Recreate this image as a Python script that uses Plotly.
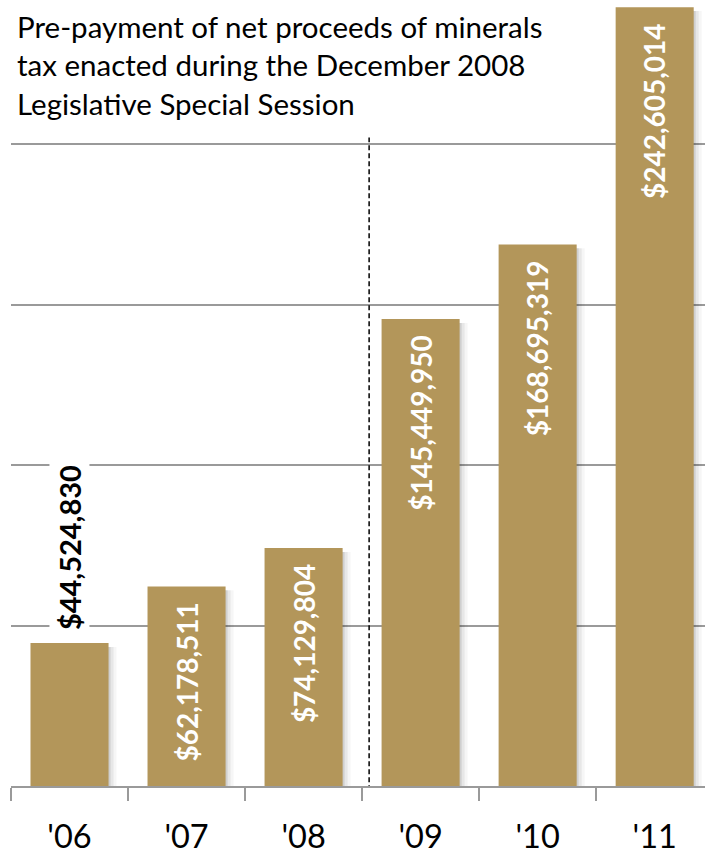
import plotly.graph_objects as go

categories = ["'06", "'07", "'08", "'09", "'10", "'11"]
values = [44524830, 62178511, 74129804, 145449950, 168695319, 242605014]
value_labels = ["$44,524,830", "$62,178,511", "$74,129,804", "$145,449,950", "$168,695,319", "$242,605,014"]
label_inside = [False, True, True, True, True, True]
title_lines = ["Pre-payment of net proceeds of minerals",
               "tax enacted during the December 2008",
               "Legislative Special Session"]

BAR = "#B3965A"
GRID = "#9A9A9A"
FONT = "Lato"

bw = 0.667

fig = go.Figure()
# soft shadow layers
for k, a in [(2, 0.10), (5, 0.06), (8, 0.035)]:
    fig.add_trace(go.Bar(
        x=categories, y=[v - 1.2e6 for v in values], width=bw, offset=-bw / 2 + k / 117.0,
        marker=dict(color=f"rgba(0,0,0,{a})", line=dict(width=0)),
        hoverinfo="skip", showlegend=False))
fig.add_trace(go.Bar(
    x=categories, y=values, width=bw, offset=-bw / 2,
    marker=dict(color=BAR, line=dict(width=0)), showlegend=False))

annotations = []
for c, v, lab, inside in zip(categories, values, value_labels, label_inside):
    if inside:
        annotations.append(dict(x=c, y=v, xref="x", yref="y", text=f"<b>{lab}</b>",
                                textangle=-90, showarrow=False, yanchor="top", yshift=-14,
                                font=dict(family=FONT, size=28, color="white")))
    else:
        annotations.append(dict(x=c, y=v, xref="x", yref="y", text=f"<b>{lab}</b>",
                                textangle=-90, showarrow=False, yanchor="bottom", yshift=10,
                                bgcolor="white", borderpad=2,
                                font=dict(family=FONT, size=29, color="black")))
annotations.append(dict(x=0, y=1, xref="paper", yref="paper", text="<br>".join(title_lines),
                        showarrow=False, xanchor="left", yanchor="top", align="left",
                        xshift=4, yshift=-7,
                        font=dict(family=FONT, size=29.5, color="black")))

fig.add_shape(type="line", xref="x", yref="y", x0=2.56, x1=2.56, y0=-1.3e6, y1=202e6,
              line=dict(color="black", width=1.5, dash="5px,3px"))

fig.update_layout(
    width=705, height=855,
    margin=dict(l=11, r=0, t=0, b=69, autoexpand=False),
    paper_bgcolor="white", plot_bgcolor="white",
    barmode="overlay",
    annotations=annotations,
    xaxis=dict(type="category", categoryorder="array", categoryarray=categories,
               range=[-0.5, 5.43], automargin=False,
               showline=True, linecolor=GRID, linewidth=1.5,
               ticks="outside", ticklen=13, tickcolor=GRID, tickwidth=1.5, tickson="boundaries",
               ticklabelstandoff=21,
               tickfont=dict(family=FONT, size=32.5, color="black"), showgrid=False),
    yaxis=dict(range=[0, 244.86e6], dtick=50e6, showgrid=True, gridcolor=GRID, gridwidth=1.5,
               automargin=False,
               showticklabels=False, zeroline=False, showline=False, ticks=""),
)
fig.write_html("out.html", config={"displayModeBar": False},
               post_script="document.body.style.margin='0';")
